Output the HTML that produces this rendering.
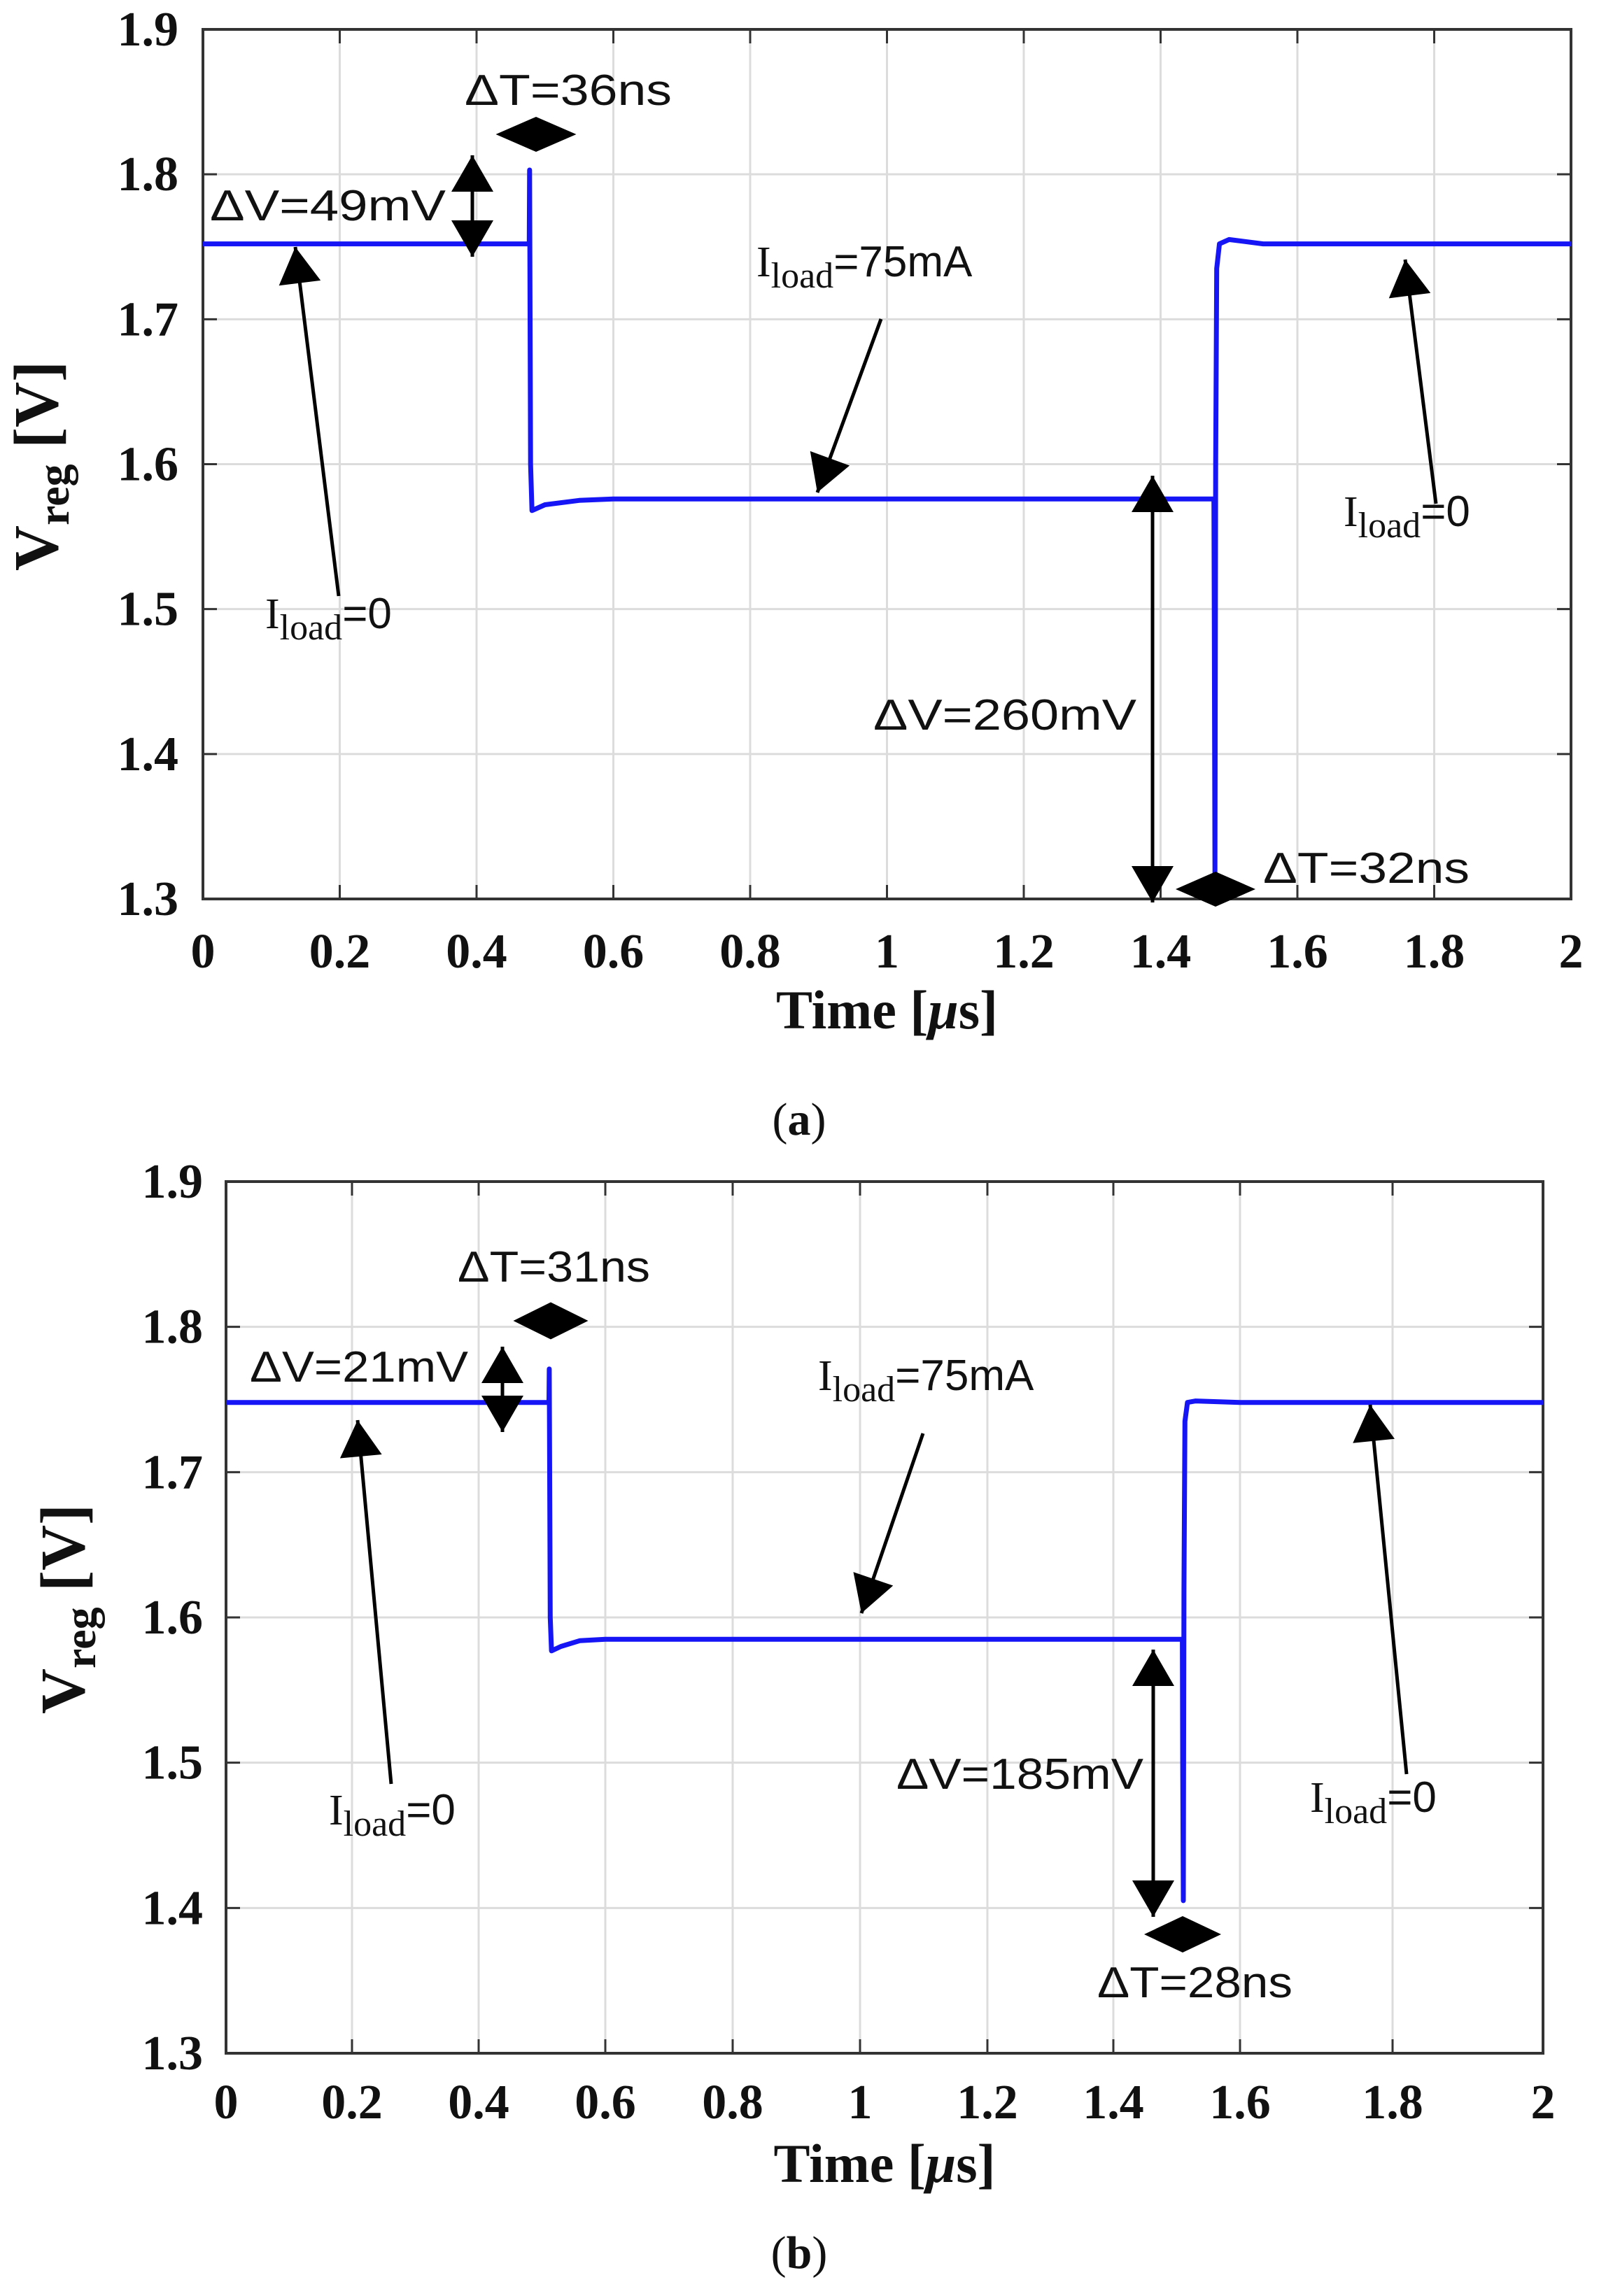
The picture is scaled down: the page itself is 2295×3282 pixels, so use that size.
<!DOCTYPE html>
<html><head><meta charset="utf-8"><style>
html,body{margin:0;padding:0;background:#fff;}
svg{display:block;}
</style></head><body>
<svg id="fig" xmlns="http://www.w3.org/2000/svg" width="2295" height="3282" viewBox="0 0 2295 3282">
<rect x="0" y="0" width="2295" height="3282" fill="#fff"/>
</svg>
<script>
// ---- data ----
const xTickValues = [0,0.2,0.4,0.6,0.8,1,1.2,1.4,1.6,1.8,2];
const xTickLabels = ["0","0.2","0.4","0.6","0.8","1","1.2","1.4","1.6","1.8","2"];
const yTickValues = [1.3,1.4,1.5,1.6,1.7,1.8,1.9];
const yTickLabels = ["1.3","1.4","1.5","1.6","1.7","1.8","1.9"];
const timesA = [0,0.477,0.4775,0.479,0.481,0.5,0.55,0.6,1.0,1.478,1.4785,1.4795,1.4805,1.482,1.486,1.5,1.55,2.0];
const voltsA = [1.752,1.752,1.803,1.60,1.568,1.572,1.575,1.576,1.576,1.576,1.50,1.316,1.60,1.735,1.752,1.755,1.752,1.752];
const timesB = [0,0.511,0.5115,0.513,0.515,0.53,0.56,0.6,1.0,1.509,1.5095,1.5105,1.5115,1.513,1.517,1.53,1.6,2.0];
const voltsB = [1.748,1.748,1.771,1.60,1.577,1.580,1.584,1.585,1.585,1.585,1.50,1.405,1.62,1.735,1.748,1.749,1.748,1.748];

const NS = "http://www.w3.org/2000/svg";
const svg = document.getElementById('fig');
function mk(tag, attrs, parent){
  const e = document.createElementNS(NS, tag);
  for (const k in attrs) e.setAttribute(k, attrs[k]);
  (parent||svg).appendChild(e);
  return e;
}
const panels = [
  {id:'a', left:290, right:2245, top:42, bottom:1285,
   xPix:[290,485.5,681,876.5,1072,1267.5,1463,1658.5,1854,2049.5,2245],
   times:timesA, volts:voltsA, xlabY:1360, titleY:1444, capY:1600, ylabX:52, ylabY:666, ytickR:255},
  {id:'b', left:323, right:2205, top:1689, bottom:2935,
   xPix:[323,503,684,865,1047,1229,1411,1591,1772,1990,2205],
   times:timesB, volts:voltsB, xlabY:3005, titleY:3093, capY:3220, ylabX:90, ylabY:2300, ytickR:290}
];
function xScale(p, t){
  const v = p.xPix;
  for (let i=0;i<xTickValues.length-1;i++){
    if (t<=xTickValues[i+1] || i===xTickValues.length-2){
      const f=(t-xTickValues[i])/(xTickValues[i+1]-xTickValues[i]);
      return v[i]+f*(v[i+1]-v[i]);
    }
  }
}
function yScale(p, val){ return p.bottom - (val-1.3)/(1.9-1.3)*(p.bottom-p.top); }

panels.forEach(p=>{
  const g = mk('g',{});
  
  
  xTickValues.forEach((t,i)=>{
    if(i===0||i===xTickValues.length-1) return;
    const x=xScale(p,t);
    const l=mk('line',{x1:x,x2:x,y1:p.top,y2:p.bottom,stroke:'#dcdcdc','stroke-width':3},g);
    
    
  });
  yTickValues.forEach((v,i)=>{
    if(i===0||i===yTickValues.length-1) return;
    const y=yScale(p,v);
    const l=mk('line',{x1:p.left,x2:p.right,y1:y,y2:y,stroke:'#dcdcdc','stroke-width':3},g);
    
    
  });
  xTickValues.forEach(t=>{
    const x=xScale(p,t);
    const a=mk('line',{x1:x,x2:x,y1:p.bottom,y2:p.bottom-20,stroke:'#333','stroke-width':3},g);
    
    
    const b=mk('line',{x1:x,x2:x,y1:p.top,y2:p.top+20,stroke:'#333','stroke-width':3},g);
    
    
  });
  yTickValues.forEach(v=>{
    const y=yScale(p,v);
    const a=mk('line',{x1:p.left,x2:p.left+20,y1:y,y2:y,stroke:'#333','stroke-width':3},g);
    
    
    const b=mk('line',{x1:p.right,x2:p.right-20,y1:y,y2:y,stroke:'#333','stroke-width':3},g);
    
    
  });
  const box=mk('rect',{x:p.left,y:p.top,width:p.right-p.left,height:p.bottom-p.top,fill:'none',stroke:'#333','stroke-width':4},g);
  
  
  xTickValues.forEach((t,i)=>{
    const tx=mk('text',{x:xScale(p,t),y:p.xlabY+23,'text-anchor':'middle','font-family':'Liberation Serif, serif','font-weight':'bold','font-size':70,fill:'#111'},g);
    tx.textContent=xTickLabels[i];
    
    
  });
  yTickValues.forEach((v,i)=>{
    const tx=mk('text',{x:p.ytickR,y:yScale(p,v)+23,'text-anchor':'end','font-family':'Liberation Serif, serif','font-weight':'bold','font-size':70,fill:'#111'},g);
    tx.textContent=yTickLabels[i];
    
    
  });
  const xt=mk('text',{x:(p.left+p.right)/2,y:p.titleY+26,'text-anchor':'middle','font-family':'Liberation Serif, serif','font-weight':'bold','font-size':78,fill:'#111'},g);
  xt.innerHTML='Time [<tspan font-style="italic">μ</tspan>s]';
  
  
  const yt=mk('text',{x:0,y:0,'text-anchor':'middle','font-family':'Liberation Serif, serif','font-weight':'bold','font-size':90,fill:'#111',transform:'translate('+(p.ylabX+30)+','+p.ylabY+') rotate(-90)'},g);
  yt.innerHTML='V<tspan font-size="64" dy="16">reg</tspan><tspan dy="-16"> [V]</tspan>';
  
  
  const cp=mk('text',{x:1142,y:p.capY+22,'text-anchor':'middle','font-family':'Liberation Serif, serif','font-size':66,fill:'#111'},g);
  cp.innerHTML='(<tspan font-weight="bold">'+p.id+'</tspan>)';
  
  
  const pts=p.times.map((t,i)=>xScale(p,t).toFixed(1)+','+yScale(p,p.volts[i]).toFixed(1)).join(' ');
  const line=mk('polyline',{points:pts,fill:'none',stroke:'#1515f5','stroke-width':7,'stroke-linejoin':'round'},g);
  
  
});

function arrow(x1,y1,x2,y2,name,double){
  const g=mk('g',{});
  
  
  const dx=x2-x1, dy=y2-y1, L=Math.hypot(dx,dy), ux=dx/L, uy=dy/L;
  const hl=52, hw=30;
  const head=(tx,ty,sx,sy)=>{
    const bx=tx-sx*hl, by=ty-sy*hl;
    mk('polygon',{points:tx+','+ty+' '+(bx-sy*hw)+','+(by+sx*hw)+' '+(bx+sy*hw)+','+(by-sx*hw),fill:'#000'},g);
  };
  mk('line',{x1:x1,y1:y1,x2:x2,y2:y2,stroke:'#000','stroke-width':5},g);
  head(x2,y2,ux,uy);
  if(double) head(x1,y1,-ux,-uy);
}
function diamond(cx,cy,w,h,name){
  const d=mk('polygon',{points:(cx-w/2)+','+cy+' '+cx+','+(cy-h/2)+' '+(cx+w/2)+','+cy+' '+cx+','+(cy+h/2),fill:'#000'});
  
  
}
function label(x,y,txt,w,name){
  const t=mk('text',{x:x,y:y,'font-family':'Liberation Sans, sans-serif','font-size':62,fill:'#111',textLength:w,lengthAdjust:'spacingAndGlyphs'});
  t.textContent=txt;
  
  
}
function iload(x,y,val,name){
  const t=mk('text',{x:x,y:y,'font-family':'Liberation Sans, sans-serif','font-size':62,fill:'#111'});
  t.innerHTML='<tspan font-family="Liberation Serif, serif">I</tspan><tspan font-family="Liberation Serif, serif" font-size="52" dy="16">load</tspan><tspan dy="-16">='+val+'</tspan>';
  
  
}
label(664,150,'ΔT=36ns',296,'delta-t-36ns-label');
diamond(766,192,115,50,'delta-t-marker-a1');
arrow(675,222,675,367,'delta-v-49mv-arrow',true);
label(300,315,'ΔV=49mV',337,'delta-v-49mv-label');
arrow(484,852,422,353,'iload0-arrow-a-left');
iload(379,898,'0','iload0-label-a-left');
iload(1081,395,'75mA','iload75-label-a');
arrow(1259,456,1168,704,'iload75-arrow-a');
iload(1920,752,'0','iload0-label-a-right');
arrow(2052,720,2008,371,'iload0-arrow-a-right');
arrow(1647,680,1647,1290,'delta-v-260mv-arrow',true);
label(1248,1043,'ΔV=260mV',376,'delta-v-260mv-label');
diamond(1737,1271,114,50,'delta-t-marker-a2');
label(1805,1262,'ΔT=32ns',295,'delta-t-32ns-label');
label(654,1832,'ΔT=31ns',275,'delta-t-31ns-label');
diamond(787,1888,107,53,'delta-t-marker-b1');
arrow(718,1925,718,2047,'delta-v-21mv-arrow',true);
label(357,1975,'ΔV=21mV',312,'delta-v-21mv-label');
arrow(559,2550,511,2030,'iload0-arrow-b-left');
iload(470,2608,'0','iload0-label-b-left');
iload(1169,1987,'75mA','iload75-label-b');
arrow(1319,2049,1231,2306,'iload75-arrow-b');
iload(1872,2590,'0','iload0-label-b-right');
arrow(2010,2536,1958,2008,'iload0-arrow-b-right');
arrow(1648,2358,1648,2740,'delta-v-185mv-arrow',true);
label(1281,2557,'ΔV=185mV',353,'delta-v-185mv-label');
diamond(1690,2765,110,52,'delta-t-marker-b2');
label(1568,2855,'ΔT=28ns',279,'delta-t-28ns-label');
</script>
</body></html>
